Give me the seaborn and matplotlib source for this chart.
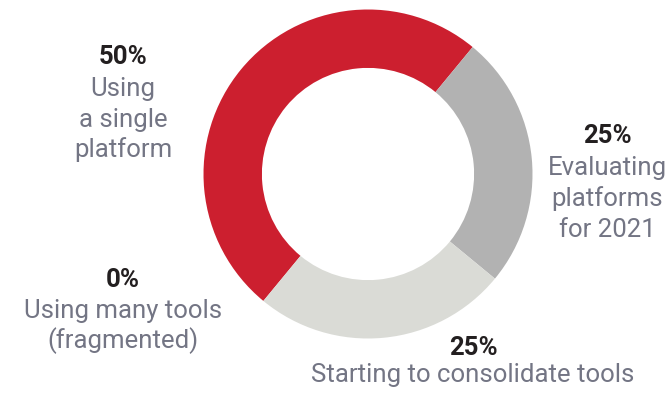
import matplotlib
matplotlib.use("Agg")
import matplotlib.pyplot as plt
import seaborn as sns

# Platform adoption shares
categories = ["Using a single platform", "Evaluating platforms for 2021",
              "Starting to consolidate tools", "Using many tools (fragmented)"]
shares = [50, 25, 25, 0]
slice_colors = ["#CC1F2F", "#B2B2B2", "#DADBD6", "#8A8A8A"]

# Label blocks: percentage line plus description lines
label_lines = [
    ["Using", "a single", "platform"],
    ["Evaluating", "platforms", "for 2021"],
    ["Starting to consolidate tools"],
    ["Using many tools", "(fragmented)"],
]

sns.set_theme(style="white")
plt.rcParams["font.family"] = ["Roboto", "DejaVu Sans"]

W, H = 670, 393
fig = plt.figure(figsize=(W / 100, H / 100), dpi=100)

# Donut placement in pixels
cx, cy, r = 368, 174, 164.5
ax = fig.add_axes([(cx - r) / W, (H - cy - r) / H, 2 * r / W, 2 * r / H])
ax.pie(shares, colors=slice_colors, startangle=230.5, counterclock=False,
       radius=1.0, wedgeprops=dict(width=0.355, edgecolor="none", linewidth=0))
ax.set_xlim(-1, 1)
ax.set_ylim(-1, 1)
ax.set_aspect("auto")
ax.axis("off")

pct_color = "#231F20"
txt_color = "#737584"
fs = 18.5

# (center x, baseline of percentage, baselines of description lines)
layouts = [
    (123, 64, [96, 127, 157]),
    (607, 143, [175, 206, 237]),
    (473, 355, [382]),
    (123, 287, [318, 348]),
]


def px(x, y):
    return x / W, 1 - y / H


for share, lines, (x, yb, ybs) in zip(shares, label_lines, layouts):
    fig.text(*px(x, yb), f"{share}%", ha="center", va="baseline",
             fontsize=fs, fontweight="bold", color=pct_color)
    for line, y in zip(lines, ybs):
        fig.text(*px(x, y), line, ha="center", va="baseline",
                 fontsize=fs, color=txt_color)

fig.savefig("out.png", dpi=100)
